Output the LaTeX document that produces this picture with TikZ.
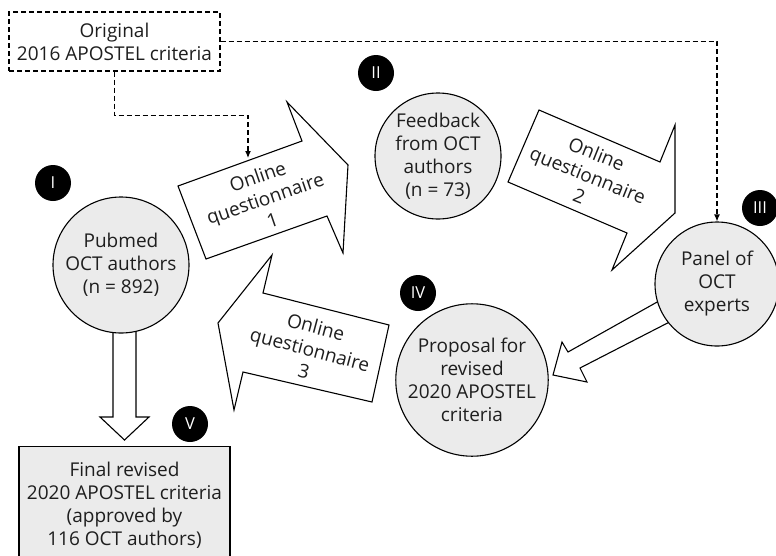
\documentclass[tikz,border=0pt]{standalone}
\usepackage{fontspec}
\setmainfont{Open Sans}
\usetikzlibrary{arrows.meta}
\definecolor{cfill}{HTML}{EBEBEB}
\definecolor{ctext}{HTML}{1E1E1E}
\begin{document}
\begin{tikzpicture}[x=1pt,y=-1pt,
  txt/.style={font=\fontsize{19}{23}\selectfont, text=ctext, align=center},
  stage/.style={txt, circle, draw=black, line width=1.1pt, fill=cfill, inner sep=0pt},
  badge/.style={circle, fill=black, minimum size=36pt, inner sep=0pt, text=white, font=\fontsize{16.5}{18}\selectfont},
  block/.style={draw=black, fill=white, line width=1.1pt, line join=miter},
  dashline/.style={draw=black, line width=1.1pt, dash pattern=on 5pt off 3pt, -{Latex[length=7pt,width=6pt]}},
  qtext/.style={txt, inner sep=0pt}
]
\useasboundingbox (0,0) rectangle (776,555);
\clip (0,0) rectangle (776,555);

% block arrows (drawn before circles)
\draw[block] (113,300) -- (113,417) -- (100,417) -- (124.5,440) -- (149,417) -- (136,417) -- (136,300) -- cycle;
\draw[block] (675,292) -- (568,352) -- (562,342) -- (553,375) -- (587,382) -- (580,368) -- (687,313) -- cycle;

% callout arrows
\draw[block] (178,186) -- (302,141) -- (287,102) -- (348,165) -- (343,253) -- (327,216) -- (206,259) -- cycle;
\draw[block] (539,110) -- (660,162) -- (675,125) -- (675,213) -- (612,270) -- (627,233) -- (508,182) -- cycle;
\draw[block] (272,255) -- (263,293) -- (389,325) -- (372,402) -- (243,372) -- (234,410) -- (218,323) -- cycle;

\node[qtext, rotate=19] (q1) at (265,198) {Online\\questionnaire\\1};
\node[qtext, rotate=-22] (q2) at (588,175) {Online\\questionnaire\\2};
\node[qtext, rotate=-15] (q3) at (310,349) {Online\\questionnaire\\3};

% stage nodes
\node[stage, minimum size=136pt] (pub) at (121,265) {Pubmed\\OCT authors\\(n = 892)};
\node[stage, minimum size=126pt] (feed) at (438,156) {Feedback\\from OCT\\authors\\(n = 73)};
\node[stage, minimum size=124pt] (pan) at (717,284) {Panel of\\OCT\\experts};
\node[stage, minimum size=152pt] (prop) at (472,380) {Proposal for\\revised\\2020 APOSTEL\\criteria};

\node[txt, draw=black, line width=1.1pt, dash pattern=on 5pt off 3pt, minimum width=211pt, minimum height=59pt, inner sep=0pt] (orig) at (114.5,41.5) {Original\\2016 APOSTEL criteria};
\node[txt, draw=black, line width=1.1pt, fill=cfill, minimum width=211pt, minimum height=118pt, inner sep=0pt, anchor=north] (final) at (124.5,446) {Final revised\\2020 APOSTEL criteria\\(approved by\\116 OCT authors)};

% badges
\node[badge] (b1) at (53,183) {I};
\node[badge] (b2) at (376,73) {II};
\node[badge] (b3) at (760,208) {III};
\node[badge] (b4) at (418,293) {IV};
\node[badge] (b5) at (190,424) {V};

% dashed connectors
\coordinate (q1top) at (248,158);
\draw[dashline] (orig.south) -- ++(0,44) -| (q1top);
\draw[dashline] (orig.east) -| (pan.north);
\end{tikzpicture}
\end{document}
